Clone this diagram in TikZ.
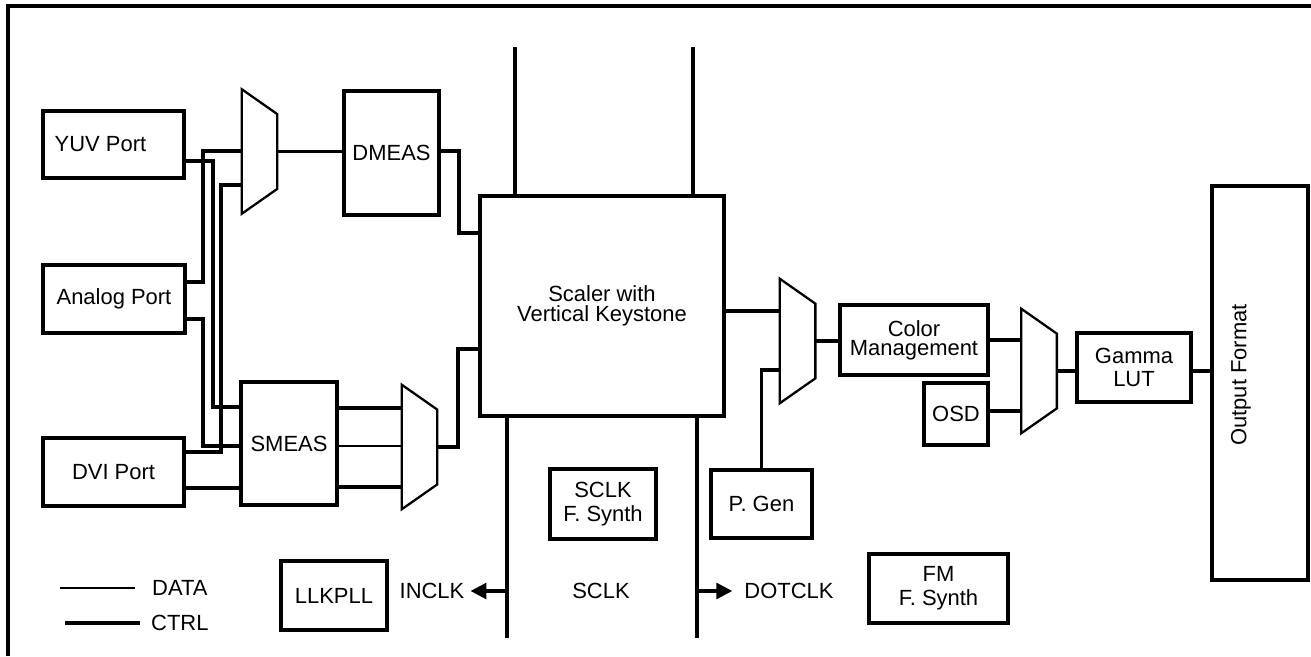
\documentclass[tikz,border=0pt]{standalone}
\usepackage{fontspec}
\setmainfont{Liberation Sans}
\usetikzlibrary{arrows.meta, positioning}

\tikzset{
  blk/.style 2 args={draw, line width=1.9pt, minimum width=#1*0.02cm,
    minimum height=#2*0.02cm, inner sep=0pt, align=center},
  mux/.style={minimum width=0.7cm, minimum height=2.48cm, inner sep=0pt},
  wire/.style={line width=1.8pt},
  thinwire/.style={line width=1.2pt},
  clkarrow/.style={line width=1.8pt, -{Triangle[length=9pt,width=9pt]}},
}

\begin{document}
\begin{tikzpicture}[x=0.02cm, y=-0.02cm, font=\fontsize{12.5}{13.5}\selectfont]
  \useasboundingbox (0,0) rectangle (1311,656);
  \draw[wire] (8,656) -- (8,6) -- (1311,6);

  % ports and measurement
  \node[blk={141}{67}] (yuv) at (113.5,144.5) {YUV Port\hspace{0.52cm}};
  \node[blk={142}{68}] (analog) at (114,299) {Analog Port};
  \node[blk={141}{68}] (dvi) at (113.5,472) {DVI Port};
  \node[blk={96}{123}] (smeas) at (289,443.5) {SMEAS};
  \node[blk={95}{124}] (dmeas) at (391.5,153) {DMEAS};
  \node[blk={244}{220}] (scaler) at (602,306) {Scaler with\\[-2pt]Vertical Keystone};

  % output path
  \node[blk={148}{70}] (color) at (914,340) {Color\\[-2.5pt]Management};
  \node[blk={64}{62}] (osd) at (956,414) {OSD};
  \node[blk={114}{69}] (gamma) at (1134,367.5) {Gamma\\LUT};
  \node[blk={96}{394}] (outfmt) at (1260,383) {};
  \node[rotate=90] (outlbl) at (1241,375) {Output Format};
  \node[blk={101}{68}] (pgen) at (761.5,504) {P. Gen};

  % clock blocks
  \node[blk={106}{70}] (sclksyn) at (603,504) {SCLK\\F. Synth};
  \node[blk={106}{69}] (llkpll) at (334,595.5) {LLKPLL};
  \node[blk={139}{69}] (fmsyn) at (938.5,588.5) {FM\\F. Synth};
  \node (sclk) at (601,591) {SCLK};
  \node (inclk) at (432,591) {INCLK};
  \node (dotclk) at (789,591) {DOTCLK};

  % muxes
  \node[mux] (muxA) at (259.5,151.5) {};
  \node[mux] (muxB) at (419.5,447) {};
  \node[mux] (muxC) at (797.5,341) {};
  \node[mux] (muxD) at (1039,371) {};
  \foreach \m in {muxA,muxB,muxC,muxD}
    \draw[line width=1.3pt] (\m.north west) -- ([yshift=-0.5cm]\m.north east)
      -- ([yshift=0.5cm]\m.south east) -- (\m.south west) -- cycle;

  % scaler buses
  \coordinate (busTL) at (515,47);
  \coordinate (busTR) at (693,47);
  \coordinate (busBL) at (507,638);
  \coordinate (busBR) at (697,638);
  \draw[wire] (scaler.north -| busTL) -- (busTL);
  \draw[wire] (scaler.north -| busTR) -- (busTR);
  \draw[wire] (scaler.south -| busBL) -- (busBL);
  \draw[wire] (scaler.south -| busBR) -- (busBR);

  % input wiring
  \draw[wire] (yuv.east |- 0,161) -- (213,161) |- (smeas.west |- 0,407);
  \draw[wire] (analog.east |- 0,282) -- (203,282) |- (muxA.west |- 0,151);
  \draw[wire] (analog.east |- 0,319) -| (203,446) -- (smeas.west |- 0,446);
  \draw[wire] (muxA.west |- 0,185) -- (221,185) |- (dvi.east |- 0,452);
  \draw[wire] (dvi.east |- 0,488) -- (smeas.west |- 0,488);
  \draw[wire] (smeas.east |- 0,408) -- (muxB.west |- 0,408);
  \draw[thinwire] (smeas.east |- 0,446) -- (muxB.west |- 0,446);
  \draw[wire] (smeas.east |- 0,487) -- (muxB.west |- 0,487);
  \draw[wire] (muxA.east) -- (dmeas.west |- muxA.east);
  \draw[wire] (dmeas.east |- 0,151) -| (459,233) -- (scaler.west |- 0,233);
  \draw[wire] (muxB.east) -| (458,349) -- (scaler.west |- 0,349);

  % output wiring
  \draw[wire] (scaler.east |- 0,311) -- (muxC.west |- 0,311);
  \draw[wire] (muxC.west |- 0,370) -| (pgen.north);
  \draw[wire] (muxC.east) -- (color.west |- muxC.east);
  \draw[wire] (color.east) -- (muxD.west |- color.east);
  \draw[wire] (osd.east |- 0,411) -- (muxD.west |- 0,411);
  \draw[wire] (muxD.east) -- (gamma.west |- muxD.east);
  \draw[wire] (gamma.east |- muxD.east) -- (outfmt.west |- muxD.east);

  % clocks
  \draw[clkarrow] (busBL |- inclk) -- (inclk.east);
  \draw[clkarrow, shorten >=0.12cm] (busBR |- dotclk) -- (dotclk.west);

  % legend
  \node[anchor=west] (dataLbl) at (146,588) {DATA};
  \node[anchor=west] (ctrlLbl) at (145,623) {CTRL};
  \coordinate (dataEnd) at (60,588);
  \coordinate (ctrlEnd) at (65,623);
  \draw[thinwire] (dataEnd) -- ([xshift=-0.22cm]dataLbl.west);
  \draw[wire] (ctrlEnd) -- ([xshift=-0.1cm]ctrlLbl.west);
\end{tikzpicture}
\end{document}
